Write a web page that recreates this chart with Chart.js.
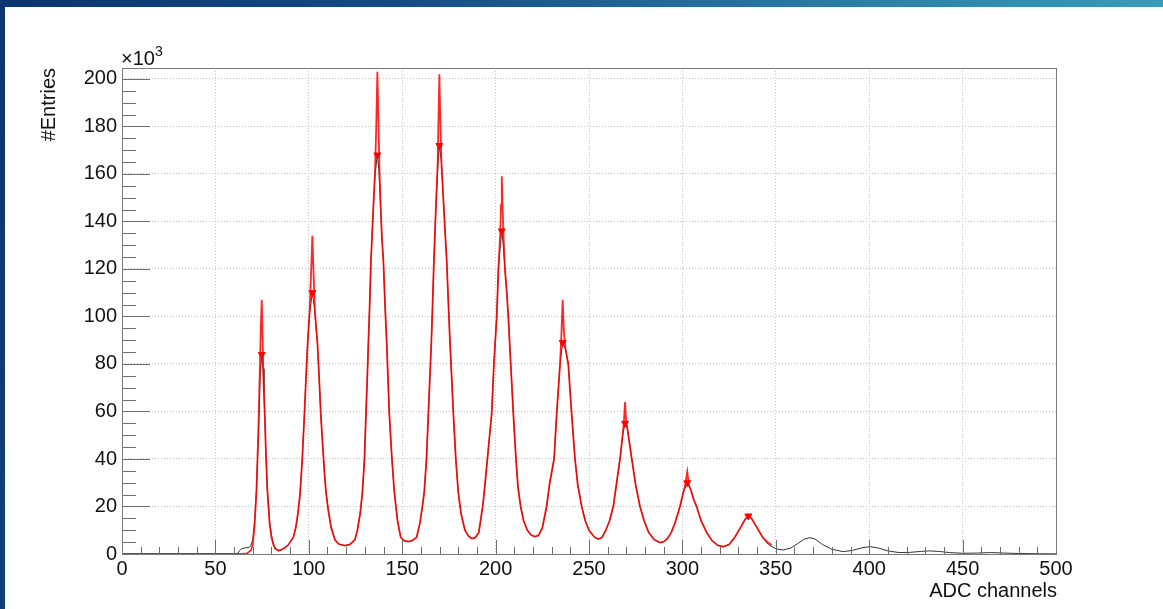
<!DOCTYPE html>
<html>
<head>
<meta charset="utf-8">
<script src="https://cdn.jsdelivr.net/npm/chart.js@4"></script>
<style>
  html, body { margin: 0; padding: 0; background: #fff; overflow: hidden; }
  #topbar { position: absolute; left: 0; top: 0; width: 1163px; height: 7px;
    background: linear-gradient(90deg, #0c346f 0%, #164c84 35%, #2a7aa2 70%, #3a9bb6 100%); }
  #leftbar { position: absolute; left: 0; top: 0; width: 5px; height: 609px;
    background: linear-gradient(180deg, #0c346f 0%, #123f7a 100%); }
  #wrap { position: absolute; left: 0; top: 0; width: 1163px; height: 609px; }
</style>
</head>
<body>
<div id="topbar"></div>
<div id="leftbar"></div>
<div id="wrap"><canvas id="myChart" width="1163" height="609"></canvas></div>
<script>
// Histogram (black) - ADC channel vs entries in thousands
const histCh = [0, 60, 62, 63, 64, 66, 68, 69, 70, 71, 72, 73, 74, 74.8, 75.5, 76, 76.5, 77, 77.8, 79, 80, 81, 82, 83.7,
  85, 87, 89, 90, 91.7, 93, 94, 95.3, 96.5, 97.6, 98.5, 99.4, 100.5, 101.9, 103, 104, 104.6, 105.5, 106.4, 107.5, 108.5, 109.2, 110.5, 112, 114, 116, 119.4,
  122, 124.7, 126, 127.5, 128.7, 129.8, 130.6, 131.3, 131.9, 132.6, 133.3, 134.5, 135.5, 136.7, 137.5, 138.5, 139.2, 139.9, 140.8, 141.7, 142.4, 143.1, 144.5, 145.8, 147.5, 149.2, 151, 153.3,
  155, 157.7, 159.5, 160.8, 161.8, 163, 164, 164.8, 165.6, 166.3, 167, 168, 169, 169.9, 171, 172, 173, 173.8, 174.7, 175.6, 176.5, 177.4, 178.7, 180, 181.5, 183.6, 185.5, 187.2,
  189, 191, 193.1, 194.3, 195.6, 196.8, 197.9, 199.1, 200.6, 201.5, 202.5, 203.3, 204.2, 205, 206, 206.8, 208.1, 209.5, 210.9, 212, 213.4, 215, 217, 219, 221,
  223, 225, 227.3, 229, 231.3, 232.7, 234.5, 235.9, 237.5, 238.9, 240.7, 242.5, 244, 246.1, 248, 250, 253, 255,
  257, 259, 261, 263, 264.8, 266.6, 268, 269.3, 270.5, 271.8, 272.9, 275, 277.3, 279.5, 282, 285, 288,
  290, 292, 294, 296, 298.7, 300.5, 302.6, 304.5, 306, 307.6, 310, 313, 316, 319, 322,
  325, 328, 331, 333.5, 335.3, 337, 340, 343, 346, 350, 354, 358, 362, 365, 368.3, 371, 375, 380, 386,
  391, 396, 400.4, 405, 410, 416, 422, 428, 432.5, 437, 443, 450, 458, 465, 472, 480, 490, 500];
const histCounts = [0, 0, 0.3, 1.5, 2.2, 2.6, 2.8, 3.5, 6, 14, 27, 50, 75, 84, 78, 68, 57, 42, 27, 14, 8, 4.5, 2.5, 1.4,
  1.6, 2.5, 3.8, 5, 7, 11, 16, 25, 40, 58, 74, 89, 102, 110, 104, 94, 89, 75, 59, 45, 33, 26, 18, 11, 6, 4.2, 3.5,
  4, 6, 10, 17, 26, 40, 59, 74, 89, 105, 124, 145, 160, 168, 162, 145, 132, 124, 105, 89, 74, 59, 40, 26, 14, 7, 5.6, 5.2,
  5.5, 7, 13, 20, 26, 40, 59, 74, 89, 106, 124, 145, 162, 172, 165, 150, 135, 124, 106, 89, 74, 59, 40, 26, 17, 10, 7.5, 6.5,
  6.8, 9, 20, 29, 40, 50, 59, 80, 100, 120, 130, 136, 129, 120, 110, 100, 80, 59, 40, 28, 20, 14, 10, 8, 7.3,
  7.8, 11, 20, 30, 40, 59, 80, 89, 86, 80, 59, 40, 29, 20, 14, 10, 7, 6.3,
  7, 10, 14, 20, 30, 40, 50, 55, 53, 46, 40, 29, 20, 14, 9, 6, 4.8,
  5.2, 6.5, 9, 13, 20, 26, 30, 27, 23, 20, 14, 9, 5.5, 3.6, 3.1,
  4, 7, 11, 14.5, 16, 15, 11, 7, 4, 2.2, 1.7, 2.5, 4.5, 6.2, 6.9, 6.3, 4, 2, 1,
  1.5, 2.6, 3.1, 2.5, 1.3, 0.6, 0.7, 1.1, 1.3, 1.1, 0.6, 0.3, 0.4, 0.6, 0.4, 0.2, 0.1, 0.05];

// Fit curve (red)
const fitCh = [0, 64, 67, 69, 70, 71, 72, 73, 73.8, 74.3, 74.8, 75.3, 75.8, 76.5, 77, 77.8, 79, 80, 81, 82, 83.7,
  85, 87, 89, 90, 91.7, 93, 94, 95.3, 96.5, 97.6, 98.5, 99.4, 100.5, 101.2, 101.9, 102.6, 103.3, 104, 104.6, 105.5, 106.4, 107.5, 108.5, 109.2, 110.5, 112, 114, 116, 119.4,
  122, 124.7, 126, 127.5, 128.7, 129.8, 130.6, 131.3, 131.9, 132.6, 133.3, 134.5, 135.5, 136.1, 136.7, 137.3, 137.9, 138.5, 139.2, 139.9, 140.8, 141.7, 142.4, 143.1, 144.5, 145.8, 147.5, 149.2, 151, 153.3,
  155, 157.7, 159.5, 160.8, 161.8, 163, 164, 164.8, 165.6, 166.3, 167, 168, 169, 169.4, 169.9, 170.4, 171, 172, 173, 173.8, 174.7, 175.6, 176.5, 177.4, 178.7, 180, 181.5, 183.6, 185.5, 187.2,
  189, 191, 193.1, 194.3, 195.6, 196.8, 197.9, 199.1, 200.6, 201.5, 202.5, 202.9, 203.3, 203.8, 204.3, 205, 206, 206.8, 208.1, 209.5, 210.9, 212, 213.4, 215, 217, 219, 221,
  223, 225, 227.3, 229, 231.3, 232.7, 234.5, 235.2, 235.9, 236.6, 237.5, 238.9, 240.7, 242.5, 244, 246.1, 248, 250, 253, 255,
  257, 259, 261, 263, 264.8, 266.6, 268, 268.7, 269.3, 269.9, 270.5, 271.8, 272.9, 275, 277.3, 279.5, 282, 285, 288,
  290, 292, 294, 296, 298.7, 300.5, 301.5, 302.6, 303.5, 304.5, 306, 307.6, 310, 313, 316, 319, 322,
  325, 328, 331, 333.5, 335.3, 337, 340, 343, 345.5, 347.8];
const fitCounts = [0, 0, 0.3, 1.5, 4, 12, 27, 52, 78, 95, 107, 90, 72, 57, 44, 27, 13, 7, 4, 2.3, 1.5,
  1.7, 2.5, 3.8, 5, 7, 11, 16, 25, 40, 58, 74, 89, 103, 118, 134, 117, 102, 95, 89, 75, 59, 45, 33, 26, 18, 11, 6, 4.2, 3.5,
  4, 6, 10, 17, 26, 40, 59, 74, 89, 105, 124, 145, 162, 180, 203, 182, 160, 146, 132, 124, 105, 89, 74, 59, 40, 26, 14, 7, 5.6, 5.2,
  5.5, 7, 13, 20, 26, 40, 59, 74, 89, 106, 124, 145, 165, 182, 202, 183, 165, 150, 135, 124, 106, 89, 74, 59, 40, 26, 17, 10, 7.5, 6.5,
  6.8, 9, 20, 29, 40, 50, 59, 80, 100, 120, 135, 147, 159, 145, 133, 120, 110, 100, 80, 59, 40, 28, 20, 14, 10, 8, 7.3,
  7.8, 11, 20, 30, 40, 59, 80, 92, 107, 93, 86, 80, 59, 40, 29, 20, 14, 10, 7, 6.3,
  7, 10, 14, 20, 30, 40, 50, 56, 64, 56, 53, 46, 40, 29, 20, 14, 9, 6, 4.8,
  5.2, 6.5, 9, 13, 20, 26, 29, 34.7, 29, 27, 23, 20, 14, 9, 5.5, 3.6, 3.1,
  4, 7, 11, 14.5, 16, 15, 11, 7, 5, 3.8];

// Peak markers
const peakCh = [74.8, 101.9, 136.7, 169.9, 203.3, 235.9, 269.3, 302.6, 335.3];
const peakCounts = [84, 110, 168, 172, 136, 89, 55, 30, 16];

const xTicks = [0, 50, 100, 150, 200, 250, 300, 350, 400, 450, 500];
const yTicks = [0, 20, 40, 60, 80, 100, 120, 140, 160, 180, 200];

const FONT = '"Liberation Sans", Arial, sans-serif';

function toPoints(xs, ys) {
    return xs.map((x, i) => ({ x: x, y: ys[i] }));
}

// ROOT style frame, inner ticks and axis titles
const rootFrame = {
    id: 'rootFrame',
    afterDraw(chart) {
        const ctx = chart.ctx;
        const a = chart.chartArea;
        const xs = chart.scales.x;
        const ys = chart.scales.y;
        ctx.save();
        ctx.strokeStyle = '#6e6e6e';
        ctx.lineWidth = 1;
        // y ticks every 5, major every 20
        for (let v = 0; v <= 200; v += 5) {
            const py = Math.round(ys.getPixelForValue(v)) + 0.5;
            const len = v % 20 === 0 ? 28 : 14;
            ctx.beginPath();
            ctx.moveTo(a.left, py);
            ctx.lineTo(a.left + len, py);
            ctx.stroke();
        }
        // x ticks every 10, major every 50
        for (let v = 0; v <= 500; v += 10) {
            const px = Math.round(xs.getPixelForValue(v)) + 0.5;
            const len = v % 50 === 0 ? 14 : 7;
            ctx.beginPath();
            ctx.moveTo(px, a.bottom);
            ctx.lineTo(px, a.bottom - len);
            ctx.stroke();
        }
        // frame
        ctx.strokeStyle = '#7a7a7a';
        ctx.strokeRect(Math.round(a.left) + 0.5, Math.round(a.top) + 0.5,
            Math.round(a.right - a.left), Math.round(a.bottom - a.top));

        ctx.fillStyle = '#111';
        // x title
        ctx.font = '20px ' + FONT;
        ctx.textAlign = 'right';
        ctx.textBaseline = 'middle';
        ctx.fillText('ADC channels', a.right + 1, 591);
        // y title
        ctx.save();
        ctx.translate(49, a.top);
        ctx.rotate(-Math.PI / 2);
        ctx.textAlign = 'right';
        ctx.textBaseline = 'middle';
        ctx.fillText('#Entries', 0, 0);
        ctx.restore();
        // exponent label
        ctx.textAlign = 'left';
        ctx.textBaseline = 'alphabetic';
        ctx.fillText('\u00d710', a.left - 1, 65);
        const w = ctx.measureText('\u00d710').width;
        ctx.font = '14px ' + FONT;
        ctx.fillText('3', a.left - 1 + w, 56);
        ctx.restore();
    }
};

const ctx = document.getElementById('myChart').getContext('2d');
const myChart = new Chart(ctx, {
    type: 'line',
    data: {
        datasets: [{
            label: 'fit',
            data: toPoints(fitCh, fitCounts),
            borderColor: 'rgba(255, 0, 0, 0.85)',
            borderWidth: 1.8,
            pointRadius: 0,
            tension: 0,
            fill: false,
            order: 1
        }, {
            label: 'histogram',
            data: toPoints(histCh, histCounts),
            borderColor: '#333',
            borderWidth: 1,
            pointRadius: 0,
            tension: 0,
            fill: false,
            order: 2
        }, {
            label: 'peaks',
            data: toPoints(peakCh, peakCounts),
            showLine: false,
            pointStyle: 'triangle',
            rotation: 180,
            pointRadius: 4,
            backgroundColor: '#ff0000',
            borderColor: '#ff0000',
            borderWidth: 1,
            order: 0
        }]
    },
    options: {
        responsive: false,
        animation: false,
        events: [],
        layout: { padding: { left: 0, top: 68, right: 107, bottom: 0 } },
        plugins: { legend: { display: false }, tooltip: { enabled: false } },
        scales: {
            x: {
                type: 'linear',
                min: 0,
                max: 500,
                afterFit: function(scale) { scale.height = 55; },
                afterBuildTicks: function(scale) { scale.ticks = xTicks.map(v => ({ value: v })); },
                grid: { color: '#c4c4c4', lineWidth: 1, drawTicks: false },
                border: { display: false, dash: [1, 2] },
                ticks: { padding: 3, color: '#111', font: { family: FONT, size: 20 }, maxRotation: 0 }
            },
            y: {
                type: 'linear',
                min: 0,
                max: 204.6,
                afterFit: function(scale) { scale.width = 122; },
                afterBuildTicks: function(scale) { scale.ticks = yTicks.map(v => ({ value: v })); },
                grid: { color: '#c4c4c4', lineWidth: 1, drawTicks: false },
                border: { display: false, dash: [1, 2] },
                ticks: { padding: 5, color: '#111', font: { family: FONT, size: 20 } }
            }
        }
    },
    plugins: [rootFrame]
});
</script>
</body>
</html>
